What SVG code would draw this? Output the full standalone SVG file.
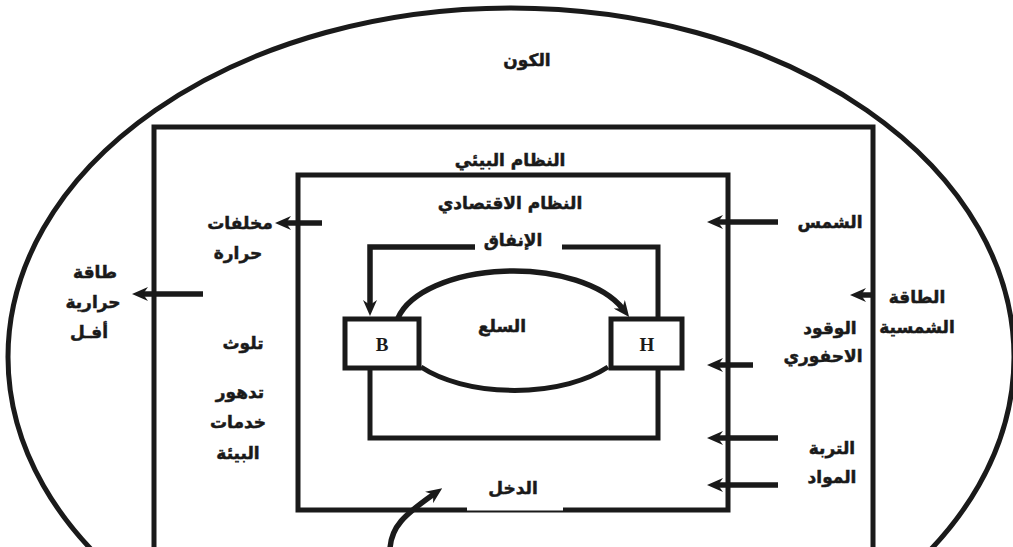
<svg xmlns="http://www.w3.org/2000/svg" width="1013" height="547" viewBox="0 0 1013 547">
<style>
  .ln { fill: none; stroke: #1a1a1a; stroke-width: 5; }
  .ar { fill: none; stroke: #1a1a1a; stroke-width: 5.5; marker-end: url(#ah); }
  .box { fill: #fff; stroke: #1a1a1a; stroke-width: 5; }
  .t { font-family: "DejaVu Sans", "Noto Sans", sans-serif; font-weight: bold; font-size: 17px; fill: #1a1a1a; stroke: #1a1a1a; stroke-width: 0.5; text-anchor: middle; }
  .l { font-family: "Liberation Serif", serif; font-weight: bold; font-size: 19px; fill: #1a1a1a; text-anchor: middle; }
</style>
<defs>
  <marker id="ah" viewBox="0 0 16 14" refX="6" refY="7" markerWidth="16" markerHeight="14" markerUnits="userSpaceOnUse" orient="auto">
    <path d="M0,0 L16,7 L0,14 L5,7 z" fill="#1a1a1a"/>
  </marker>
</defs>
<rect width="1013" height="547" fill="#fff"/>

<g id="universe">
  <ellipse class="ln" cx="511" cy="357" rx="503" ry="349"/>
  <text class="t" x="527" y="66">الكون</text>
</g>

<g id="ecosystem">
  <path class="ln" d="M154 547 V127 H873 V547"/>
  <text class="t" x="510" y="166">النظام البيئي</text>
</g>

<g id="economy">
  <path class="ln" d="M467 510 H298 V175 H728 V510 H563"/>
  <line x1="467" y1="511.5" x2="563" y2="511.5" stroke="#1a1a1a" stroke-width="2"/>
  <text class="t" x="510" y="209">النظام الاقتصادي</text>
</g>

<g id="B">
  <rect class="box" x="345" y="319" width="74" height="49"/>
  <text class="l" x="382" y="351">B</text>
</g>
<g id="H">
  <rect class="box" x="611" y="319" width="71" height="49"/>
  <text class="l" x="647" y="351">H</text>
</g>

<g id="connectors">
  <path class="ar" d="M475 247 H370 V306"/>
  <path class="ln" d="M562 247 H658 V318"/>
  <path class="ln" d="M370 369 V438 H658 V369"/>
  <path class="ar" d="M398 318 A118 60 0 0 1 623 309"/>
  <path class="ln" d="M421 367 A118 60 0 0 0 608 367"/>
  <line class="ar" x1="322" y1="223" x2="285" y2="223"/>
  <line class="ar" x1="203" y1="294" x2="142" y2="294"/>
  <line class="ar" x1="778" y1="222" x2="717" y2="222"/>
  <line class="ar" x1="872" y1="295" x2="860" y2="295"/>
  <line class="ar" x1="753" y1="365" x2="717" y2="365"/>
  <line class="ar" x1="778" y1="438" x2="717" y2="438"/>
  <line class="ar" x1="778" y1="485" x2="717" y2="485"/>
  <path class="ar" d="M390 549 C391 527 404 515 434 494"/>
</g>

<g id="labels">
  <text class="t" x="513" y="246">الإنفاق</text>
  <text class="t" x="502" y="332">السلع</text>
  <text class="t" x="513" y="494">الدخل</text>

  <text class="t" x="240" y="229">مخلفات</text>
  <text class="t" x="238" y="259">حرارة</text>

  <text class="t" x="95" y="278">طاقة</text>
  <text class="t" x="93" y="308">حرارية</text>
  <text class="t" x="89" y="338">أفـل</text>

  <text class="t" x="243" y="349">تلوث</text>
  <text class="t" x="240" y="398">تدهور</text>
  <text class="t" x="238" y="428">خدمات</text>
  <text class="t" x="238" y="459">البيئة</text>

  <text class="t" x="830" y="228">الشمس</text>
  <text class="t" x="917" y="303">الطاقة</text>
  <text class="t" x="917" y="333">الشمسية</text>
  <text class="t" x="830" y="334">الوقود</text>
  <text class="t" x="823" y="362">الاحفوري</text>
  <text class="t" x="832" y="454">التربة</text>
  <text class="t" x="832" y="483">المواد</text>
</g>
</svg>
